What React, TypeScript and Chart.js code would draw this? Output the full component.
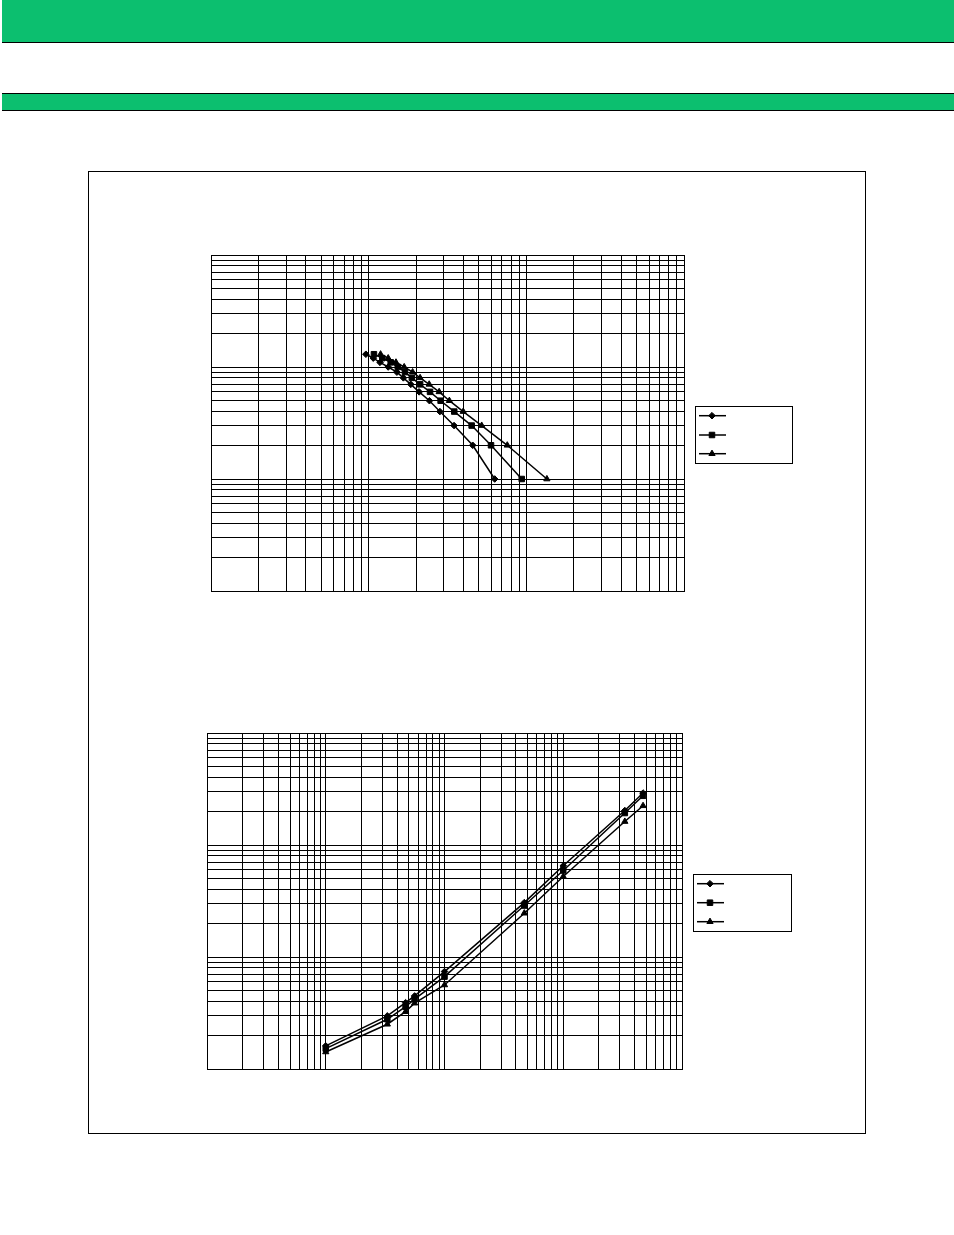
import { useEffect, useRef } from 'react';
import { Chart, registerables } from 'chart.js';
Chart.register(...registerables);

const LOG_STEPS = [1, 2, 3, 4, 5, 6, 7, 8, 9];

// upper chart: three curves sampled at the same y levels
const UP_Y = [130, 120, 110, 100, 90, 80, 70, 60, 50, 40, 30, 20, 10];
const UP_DIAMOND_X = [9.6, 10.7, 11.8, 13.3, 15.1, 16.6, 18.5, 20.9, 24.3, 28.3, 34.8, 45.7, 63];
const UP_SQUARE_X = [10.8, 12.2, 13.8, 15.3, 17, 18.8, 21.2, 24.5, 28.6, 34.9, 45, 59.7, 93.5];
const UP_TRIANGLE_X = [11.9, 13.3, 14.9, 16.8, 19, 21.2, 24.2, 28, 32.5, 39.8, 52.1, 75.7, 135];

// lower chart: three curves sampled at the same x values
const LOW_X = [10, 33, 47, 56, 100, 470, 1000, 3300, 4700];
const LOW_DIAMOND_Y = [1.61, 2.98, 3.91, 4.49, 7.41, 30.6, 65.2, 203, 291];
const LOW_SQUARE_Y = [1.52, 2.78, 3.6, 4.2, 6.68, 28.8, 59.2, 193, 275];
const LOW_TRIANGLE_Y = [1.42, 2.51, 3.25, 3.87, 5.63, 24.6, 52.3, 162, 224];

const GREEN = '#0cbf6f';

function decadeTicks(min: number, max: number) {
  const out: { value: number }[] = [];
  for (let d = min; d < max; d *= 10) {
    LOG_STEPS.forEach(s => out.push({ value: s * d }));
  }
  out.push({ value: max });
  return out;
}

function drawMarker(ctx: CanvasRenderingContext2D, style: string, x: number, y: number, r: number) {
  ctx.beginPath();
  if (style === 'rectRot') {
    ctx.moveTo(x, y - r);
    ctx.lineTo(x + r, y);
    ctx.lineTo(x, y + r);
    ctx.lineTo(x - r, y);
  } else if (style === 'triangle') {
    let a = 0;
    ctx.moveTo(x + Math.sin(a) * r, y - Math.cos(a) * r);
    a += (2 * Math.PI) / 3;
    ctx.lineTo(x + Math.sin(a) * r, y - Math.cos(a) * r);
    a += (2 * Math.PI) / 3;
    ctx.lineTo(x + Math.sin(a) * r, y - Math.cos(a) * r);
  } else {
    const s = Math.SQRT1_2 * r;
    ctx.rect(x - s, y - s, 2 * s, 2 * s);
  }
  ctx.closePath();
  ctx.fill();
  ctx.stroke();
}

// boxed legend with no text, drawn to the right of the plot
const legendBox = {
  id: 'legendBox',
  afterDraw(chart: any, _args: any, opts: any) {
    if (!opts || !opts.rows) return;
    const { ctx, chartArea } = chart;
    const ox = chartArea.right;
    const oy = chartArea.top;
    ctx.save();
    ctx.strokeStyle = '#000';
    ctx.fillStyle = '#000';
    ctx.lineWidth = 1;
    ctx.strokeRect(Math.round(ox + opts.x) + 0.5, Math.round(oy + opts.y) + 0.5, opts.w, opts.h);
    chart.data.datasets.forEach((ds: any, i: number) => {
      const y = oy + opts.rows[i];
      ctx.lineWidth = ds.borderWidth;
      ctx.beginPath();
      ctx.moveTo(ox + opts.x0, y);
      ctx.lineTo(ox + opts.x1, y);
      ctx.stroke();
      ctx.lineWidth = 1;
      drawMarker(ctx, ds.pointStyle, ox + opts.mx, y, ds.pointRadius);
    });
    ctx.restore();
  },
};

function series(xs: number[], ys: number[], style: string, radius: number) {
  return {
    data: xs.map((x, i) => ({ x, y: ys[i] })),
    showLine: true,
    borderColor: '#000',
    backgroundColor: '#000',
    pointBackgroundColor: '#000',
    pointBorderColor: '#000',
    pointBorderWidth: 1,
    borderWidth: 1.5,
    pointStyle: style,
    pointRadius: radius,
    tension: 0,
  };
}

function logAxis(min: number, max: number) {
  return {
    type: 'logarithmic' as const,
    min,
    max,
    afterBuildTicks: (s: any) => { s.ticks = decadeTicks(min, max); },
    ticks: { display: false },
    grid: { color: '#000', lineWidth: 1, drawTicks: false },
    border: { color: '#000', width: 1 },
  };
}

type Props = {
  left: number; top: number; width: number; height: number;
  pad: { left: number; top: number; right: number; bottom: number };
  datasets: any[];
  xr: [number, number]; yr: [number, number];
  legend: any;
};

function LogChart({ left, top, width, height, pad, datasets, xr, yr, legend }: Props) {
  const ref = useRef<HTMLCanvasElement>(null);
  useEffect(() => {
    if (!ref.current) return;
    const chart = new Chart(ref.current, {
      type: 'scatter',
      data: { datasets },
      options: {
        animation: false,
        responsive: false,
        maintainAspectRatio: false,
        layout: { padding: pad },
        plugins: { legend: { display: false }, tooltip: { enabled: false }, legendBox: legend } as any,
        scales: { x: logAxis(xr[0], xr[1]), y: logAxis(yr[0], yr[1]) } as any,
      },
      plugins: [legendBox],
    });
    return () => { chart.destroy(); };
  }, []);
  return (
    <canvas ref={ref} width={width} height={height}
      style={{ position: 'absolute', left, top, width, height }} />
  );
}

export default function App() {
  const upper = [
    series(UP_DIAMOND_X, UP_Y, 'rectRot', 3.3),
    series(UP_SQUARE_X, UP_Y, 'rect', 3.9),
    series(UP_TRIANGLE_X, UP_Y, 'triangle', 3.6),
  ];
  const lower = [
    series(LOW_X, LOW_DIAMOND_Y, 'rectRot', 3.3),
    series(LOW_X, LOW_SQUARE_Y, 'rect', 3.9),
    series(LOW_X, LOW_TRIANGLE_Y, 'triangle', 3.6),
  ];
  return (
    <div style={{ position: 'absolute', left: 0, top: 0, width: 954, height: 1235, background: '#fff', overflow: 'hidden' }}>
      <div style={{ position: 'absolute', left: 2, top: 0, width: 952, height: 42, background: GREEN }} />
      <div style={{ position: 'absolute', left: 2, top: 42, width: 952, height: 1, background: '#000' }} />
      <div style={{ position: 'absolute', left: 2, top: 93, width: 952, height: 1, background: '#000' }} />
      <div style={{ position: 'absolute', left: 2, top: 94, width: 952, height: 16, background: GREEN }} />
      <div style={{ position: 'absolute', left: 2, top: 110, width: 952, height: 1, background: '#000' }} />

      <div style={{ position: 'absolute', left: 88, top: 171, width: 778, height: 963, border: '1px solid #000', boxSizing: 'border-box' }} />

      <LogChart left={201} top={245} width={600} height={360}
        pad={{ left: 10, top: 10, right: 117, bottom: 14 }}
        datasets={upper} xr={[1, 1000]} yr={[1, 1000]}
        legend={{ x: 11, y: 151, w: 97, h: 57, rows: [160.7, 180, 198.7], x0: 15, x1: 42, mx: 28 }} />

      <LogChart left={197} top={723} width={604} height={360}
        pad={{ left: 10, top: 10, right: 119, bottom: 14 }}
        datasets={lower} xr={[1, 10000]} yr={[1, 1000]}
        legend={{ x: 11, y: 141, w: 98, h: 57, rows: [150.7, 169.7, 188.7], x0: 15, x1: 42, mx: 28 }} />
    </div>
  );
}
